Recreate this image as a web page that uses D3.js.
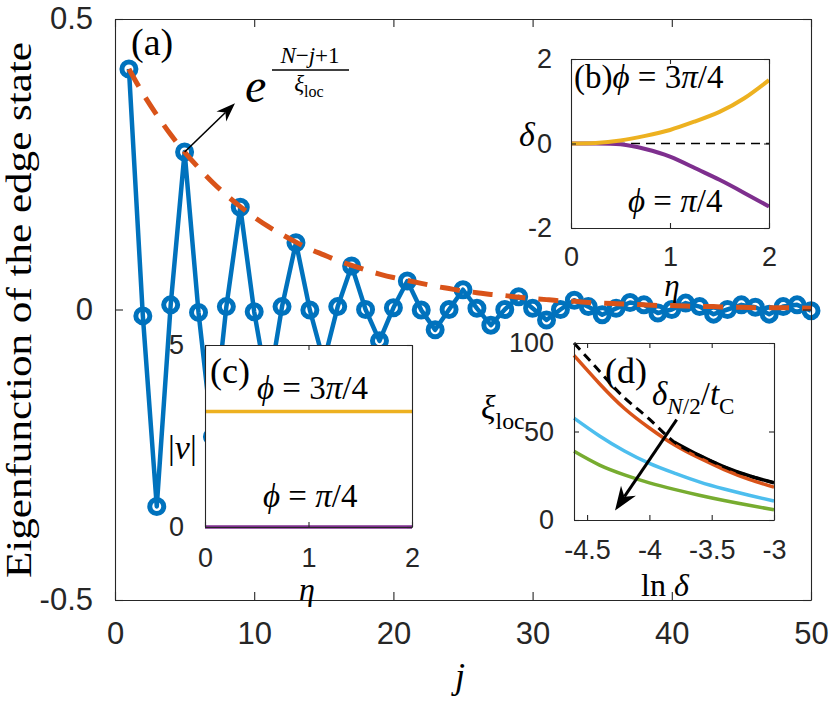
<!DOCTYPE html>
<html>
<head>
<meta charset="utf-8">
<title>Edge state eigenfunction</title>
<script src="https://cdn.jsdelivr.net/npm/d3@7"></script>
<style>
  html, body { margin: 0; padding: 0; background: #fff; }
  svg { display: block; }
  text { white-space: pre; }
</style>
</head>
<body>
<svg id="chart" width="831" height="707"></svg>
<script>
// (a) eigenfunction of the edge state vs site j
const SITES = [1, 2, 3, 4, 5, 6, 7, 8, 9, 10, 11, 12, 13, 14, 15, 16, 17, 18, 19, 20,
  21, 22, 23, 24, 25, 26, 27, 28, 29, 30, 31, 32, 33, 34, 35, 36, 37, 38, 39, 40,
  41, 42, 43, 44, 45, 46, 47, 48, 49, 50];
const EDGE_STATE = [0.414, -0.011, -0.339, 0.008, 0.271, -0.005, -0.219, 0.005, 0.176, -0.004,
  -0.140, 0.005, 0.115, -0.001, -0.090, 0.005, 0.075, 0.000, -0.054, 0.003,
  0.049, -0.001, -0.035, 0.000, 0.034, 0.002, -0.027, 0.000, 0.022, 0.002,
  -0.018, 0.000, 0.016, 0.005, -0.009, 0.002, 0.012, 0.008, -0.006, 0.000,
  0.011, 0.005, -0.008, 0.000, 0.008, 0.004, -0.008, 0.005, 0.008, -0.002];
const ENVELOPE = [0.414, 0.372, 0.335, 0.301, 0.271, 0.244, 0.219, 0.197, 0.177, 0.159,
  0.143, 0.129, 0.116, 0.104, 0.094, 0.084, 0.076, 0.068, 0.061, 0.055,
  0.050, 0.045, 0.040, 0.036, 0.032, 0.029, 0.026, 0.024, 0.021, 0.019,
  0.017, 0.015, 0.014, 0.012, 0.011, 0.010, 0.009, 0.008, 0.007, 0.007,
  0.006, 0.005, 0.005, 0.004, 0.004, 0.003, 0.003, 0.003, 0.003, 0.002];
const MAIN_X_TICKS = [0, 10, 20, 30, 40, 50];
const MAIN_Y_TICKS = [-0.5, 0, 0.5];

// (b) delta vs eta
const ETA_B = [0, 0.25, 0.5, 0.75, 1, 1.25, 1.5, 1.75, 2];
const DELTA_3PI4 = [0, 0.01, 0.07, 0.18, 0.32, 0.52, 0.75, 1.07, 1.5];
const DELTA_PI4 = [0, 0, -0.02, -0.13, -0.31, -0.58, -0.86, -1.17, -1.49];
const B_X_TICKS = [0, 1, 2];
const B_Y_TICKS = [-2, 0, 2];

// (c) |nu| vs eta
const ETA_C = [0, 2];
const NU_3PI4 = [3.17, 3.17];
const NU_PI4 = [0, 0];
const C_X_TICKS = [0, 1, 2];
const C_Y_TICKS = [0, 5];

// (d) xi_loc vs ln(delta)
const LN_DELTA = [-4.605, -4.4, -4.2, -4.0, -3.8, -3.6, -3.4, -3.2, -3.0];
const XI_THEORY = [100, 84, 69, 57, 44, 36.5, 30, 25, 21];
const LN_DELTA_BLACK = [-3.8, -3.6, -3.4, -3.2, -3.0];
const XI_BLACK = [44, 36.5, 30, 25, 21];
const XI_RED = [93, 77, 63, 52, 42.5, 35, 28.5, 23, 18.6];
const XI_CYAN = [57.6, 47.5, 39, 32, 26.5, 21.5, 17.5, 14, 10.7];
const XI_GREEN = [38.8, 31, 25.5, 21, 17.3, 14, 11, 8.3, 5.8];
const D_X_TICKS = [-4.5, -4, -3.5, -3];
const D_Y_TICKS = [0, 50, 100];

const INK = "#262626";
const SANS = "'Liberation Sans', Arial, Helvetica, sans-serif";
const SERIF = "'Liberation Serif', 'Times New Roman', serif";
const BLUE = "#0072BD";
const ORANGE = "#D95319";
const YELLOW = "#EDB120";
const PURPLE = "#7E2F8E";
const CYAN = "#4DBEEE";
const GREEN = "#77AC30";
const PHI = "\u03d5";

const svg = d3.select("#chart");

function drawFrame(g, x, y, opt) {
  const [x0, x1] = x.range();
  const [yb, yt] = y.range();

  function side(axis, tx, ty, withLabels) {
    const a = g.append("g")
      .attr("transform", `translate(${tx},${ty})`)
      .call(axis.tickSizeInner(-opt.tick).tickSizeOuter(0).tickPadding(opt.pad)
        .tickFormat((d) => String(d)));
    a.select(".domain").attr("stroke", INK).attr("stroke-width", 1.1);
    a.selectAll(".tick line").attr("stroke", INK).attr("stroke-width", 1.1);
    a.attr("font-family", SANS).attr("font-size", opt.font);
    a.selectAll(".tick text").attr("fill", INK);
    if (!withLabels) a.selectAll(".tick text").remove();
  }

  side(d3.axisBottom(x).tickValues(opt.xTicks), 0, yb, true);
  side(d3.axisTop(x).tickValues(opt.xTicks), 0, yt, false);
  side(d3.axisLeft(y).tickValues(opt.yTicks).tickPadding(opt.yPad ?? opt.pad), x0, 0, true);
  side(d3.axisRight(y).tickValues(opt.yTicks), x1, 0, false);
}

function background(g, x, y) {
  const [x0, x1] = x.range();
  const [yb, yt] = y.range();
  g.append("rect")
    .attr("x", x0).attr("y", yt)
    .attr("width", x1 - x0).attr("height", yb - yt)
    .attr("fill", "#fff");
}

function mathLabel(g, x, y, size, parts, anchor = "start") {
  const text = g.append("text")
    .attr("x", x).attr("y", y)
    .attr("font-family", SERIF)
    .attr("font-size", size)
    .attr("text-anchor", anchor)
    .attr("fill", "#000");
  let shift = 0;
  parts.forEach(([str, style]) => {
    const sub = style.startsWith("sub");
    const target = sub ? size * 0.28 : 0;
    text.append("tspan")
      .attr("dy", target - shift)
      .attr("font-size", sub ? size * 0.7 : size)
      .attr("font-style", style.endsWith("i") ? "italic" : "normal")
      .text(str);
    shift = target;
  });
  return text;
}

function arrow(g, x1, y1, x2, y2, width, headLen, headWidth) {
  const ang = Math.atan2(y2 - y1, x2 - x1);
  const ux = Math.cos(ang), uy = Math.sin(ang);
  const px = -uy, py = ux;
  const bx = x2 - ux * headLen, by = y2 - uy * headLen;
  const nx = x2 - ux * headLen * 0.7, ny = y2 - uy * headLen * 0.7;
  g.append("line")
    .attr("x1", x1).attr("y1", y1).attr("x2", nx).attr("y2", ny)
    .attr("stroke", "#000").attr("stroke-width", width);
  g.append("path")
    .attr("d", `M${x2},${y2}L${bx + px * headWidth / 2},${by + py * headWidth / 2}` +
      `L${nx},${ny}L${bx - px * headWidth / 2},${by - py * headWidth / 2}Z`)
    .attr("fill", "#000");
}

function series(xs, ys) {
  return xs.map((d, i) => [d, ys[i]]);
}

// ---------- main panel (a) ----------
const x = d3.scaleLinear().domain([0, 50]).range([115, 811]);
const y = d3.scaleLinear().domain([-0.5, 0.5]).range([600, 19]);
const main = svg.append("g");

background(main, x, y);

main.append("path")
  .datum(series(SITES, EDGE_STATE))
  .attr("fill", "none")
  .attr("stroke", BLUE)
  .attr("stroke-width", 4.5)
  .attr("stroke-linejoin", "round")
  .attr("d", d3.line().x((d) => x(d[0])).y((d) => y(d[1])));

main.selectAll("circle.site")
  .data(series(SITES, EDGE_STATE))
  .join("circle")
  .attr("class", "site")
  .attr("cx", (d) => x(d[0]))
  .attr("cy", (d) => y(d[1]))
  .attr("r", 7)
  .attr("fill", "none")
  .attr("stroke", BLUE)
  .attr("stroke-width", 5);

main.append("path")
  .datum(series(SITES, ENVELOPE))
  .attr("fill", "none")
  .attr("stroke", ORANGE)
  .attr("stroke-width", 5)
  .attr("stroke-dasharray", "20,13")
  .attr("d", d3.line().curve(d3.curveNatural).x((d) => x(d[0])).y((d) => y(d[1])));

drawFrame(main, x, y, {
  xTicks: MAIN_X_TICKS, yTicks: MAIN_Y_TICKS,
  tick: 8, pad: 22, yPad: 13, font: 31,
});

arrow(main, x(5), y(0.271), x(8.62), y(0.355), 1.6, 19, 14);

mathLabel(main, 131, 55, 38, [["(a)", "r"]]);
mathLabel(main, 245, 102, 48, [["e", "i"]]);
mathLabel(main, 310, 63, 23, [["N", "i"], ["\u2212", "r"], ["j", "i"], ["+1", "r"]], "middle");
main.append("line")
  .attr("x1", 272).attr("x2", 349).attr("y1", 70).attr("y2", 70)
  .attr("stroke", "#000").attr("stroke-width", 1.4);
mathLabel(main, 309, 91, 23, [["\u03be", "i"], ["loc", "sub-r"]], "middle");

mathLabel(main, 460, 688, 36, [["j", "i"]], "middle");

main.append("text")
  .attr("transform", "translate(31,310) rotate(-90)")
  .attr("text-anchor", "middle")
  .attr("font-family", SERIF)
  .attr("font-size", 35)
  .attr("textLength", 536)
  .attr("lengthAdjust", "spacingAndGlyphs")
  .text("Eigenfunction of the edge state");

// ---------- inset (b) ----------
const xb = d3.scaleLinear().domain([0, 2]).range([571, 769]);
const yb = d3.scaleLinear().domain([-2, 2]).range([228, 59]);
const gb = svg.append("g");
background(gb, xb, yb);

const lineB = d3.line().curve(d3.curveNatural).x((d) => xb(d[0])).y((d) => yb(d[1]));
gb.append("path")
  .datum([[0, 0], [2, 0]])
  .attr("fill", "none").attr("stroke", "#000").attr("stroke-width", 1.6)
  .attr("stroke-dasharray", "9,6")
  .attr("d", lineB);
gb.append("path")
  .datum(series(ETA_B, DELTA_PI4))
  .attr("fill", "none").attr("stroke", PURPLE).attr("stroke-width", 4)
  .attr("d", lineB);
gb.append("path")
  .datum(series(ETA_B, DELTA_3PI4))
  .attr("fill", "none").attr("stroke", YELLOW).attr("stroke-width", 4)
  .attr("d", lineB);

drawFrame(gb, xb, yb, {
  xTicks: B_X_TICKS, yTicks: B_Y_TICKS,
  tick: 5, pad: 19, yPad: 8, font: 27,
});

mathLabel(gb, 574, 88, 33, [["(b)", "r"], [PHI, "i"], [" = 3", "r"], ["\u03c0", "i"], ["/4", "r"]]);
mathLabel(gb, 628, 212, 33, [[PHI, "i"], [" = ", "r"], ["\u03c0", "i"], ["/4", "r"]]);
mathLabel(gb, 519, 146, 34, [["\u03b4", "i"]]);
mathLabel(gb, 672, 296, 31, [["\u03b7", "i"]], "middle");

// ---------- inset (c) ----------
const xc = d3.scaleLinear().domain([0, 2]).range([205, 412]);
const yc = d3.scaleLinear().domain([0, 5]).range([527, 345]);
const gc = svg.append("g");
background(gc, xc, yc);

const lineC = d3.line().x((d) => xc(d[0])).y((d) => yc(d[1]));
gc.append("path")
  .datum(series(ETA_C, NU_3PI4))
  .attr("fill", "none").attr("stroke", YELLOW).attr("stroke-width", 3.5)
  .attr("d", lineC);
gc.append("path")
  .datum(series(ETA_C, NU_PI4))
  .attr("fill", "none").attr("stroke", PURPLE).attr("stroke-width", 3.5)
  .attr("d", lineC);

drawFrame(gc, xc, yc, {
  xTicks: C_X_TICKS, yTicks: C_Y_TICKS,
  tick: 5, pad: 21, yPad: 12, font: 27,
});

mathLabel(gc, 210, 383, 36, [["(c)", "r"]]);
mathLabel(gc, 257, 399, 33, [[PHI, "i"], [" = 3", "r"], ["\u03c0", "i"], ["/4", "r"]]);
mathLabel(gc, 263, 507, 33, [[PHI, "i"], [" = ", "r"], ["\u03c0", "i"], ["/4", "r"]]);
mathLabel(gc, 168, 459, 34, [["|", "r"], ["\u03bd", "i"], ["|", "r"]]);
mathLabel(gc, 307, 600, 32, [["\u03b7", "i"]], "middle");

// ---------- inset (d) ----------
const xd = d3.scaleLinear().domain([-4.605, -3]).range([574, 774]);
const yd = d3.scaleLinear().domain([0, 100]).range([520, 343]);
const gd = svg.append("g");
background(gd, xd, yd);

const lineD = d3.line().curve(d3.curveNatural).x((d) => xd(d[0])).y((d) => yd(d[1]));
[[XI_GREEN, GREEN], [XI_CYAN, CYAN]].forEach(([vals, color]) => {
  gd.append("path")
    .datum(series(LN_DELTA, vals))
    .attr("fill", "none").attr("stroke", color).attr("stroke-width", 3.5)
    .attr("d", lineD);
});
gd.append("path")
  .datum(series(LN_DELTA_BLACK, XI_BLACK))
  .attr("fill", "none").attr("stroke", "#000").attr("stroke-width", 3.5)
  .attr("d", lineD);
gd.append("path")
  .datum(series(LN_DELTA, XI_RED))
  .attr("fill", "none").attr("stroke", ORANGE).attr("stroke-width", 3.5)
  .attr("d", lineD);
gd.append("path")
  .datum(series(LN_DELTA, XI_THEORY))
  .attr("fill", "none").attr("stroke", "#000").attr("stroke-width", 3)
  .attr("stroke-dasharray", "9,6")
  .attr("d", lineD);

drawFrame(gd, xd, yd, {
  xTicks: D_X_TICKS, yTicks: D_Y_TICKS,
  tick: 5, pad: 20, yPad: 5, font: 27,
});

arrow(gd, xd(-3.781), yd(56.7), xd(-4.276), yd(5.3), 3, 24, 18);

mathLabel(gd, 605, 383, 36, [["(d)", "r"]]);
mathLabel(gd, 652, 405, 33, [["\u03b4", "i"], ["N", "sub-i"], ["/2", "sub-r"], ["/", "r"], ["t", "i"], ["C", "sub-r"]]);
mathLabel(gd, 481, 419, 34, [["\u03be", "i"], ["loc", "sub-r"]]);
mathLabel(gd, 665, 596, 32, [["ln ", "r"], ["\u03b4", "i"]], "middle");
</script>
</body>
</html>
